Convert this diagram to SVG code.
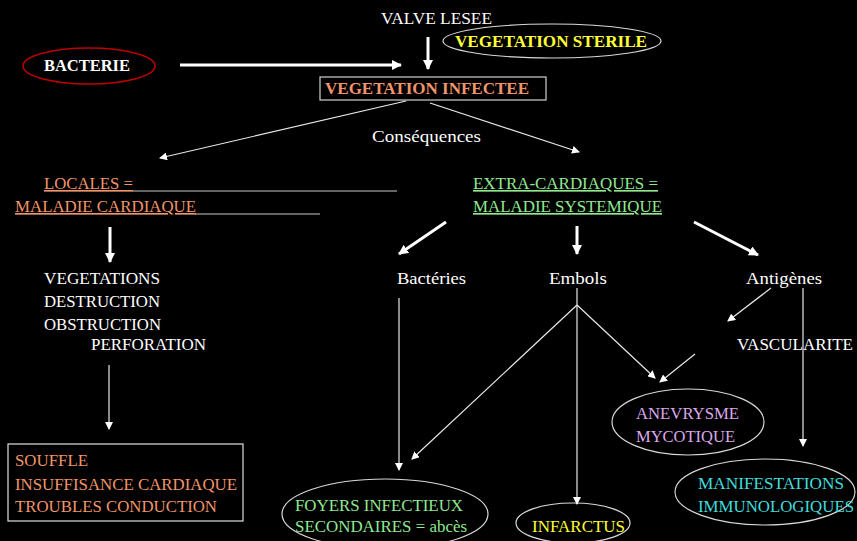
<svg xmlns="http://www.w3.org/2000/svg" width="857" height="541" viewBox="0 0 857 541">
<defs>
<marker id="ah" markerWidth="8" markerHeight="8" refX="7" refY="4" orient="auto" markerUnits="userSpaceOnUse"><path d="M0,0 L8,4 L0,8 z" fill="#fff"/></marker>
<marker id="ahb" markerWidth="10" markerHeight="10" refX="9" refY="5" orient="auto" markerUnits="userSpaceOnUse"><path d="M0,0 L10,5 L0,10 z" fill="#fff"/></marker>
</defs>
<style>
text{font-size:16.5px;fill:#fff}
.b{font-weight:bold}
.o{fill:#f0956a}
.g{fill:#90e890}
.y{fill:#ffff33}
.p{fill:#dca8ec}
.c{fill:#40dcdc}
.u{text-decoration:underline}
.thin{stroke:#e8e8e8;stroke-width:1.2;fill:none;marker-end:url(#ah)}
.thick{stroke:#fff;stroke-width:3;fill:none;marker-end:url(#ahb)}
.ell{fill:none;stroke:#d8d8d8;stroke-width:1.2}
.ul{stroke:#c8c8c8;stroke-width:1}
</style>
<rect width="857" height="541" fill="#000"/>
<g font-family="Liberation Serif, Times New Roman, serif">
<g id="valve"><text x="381" y="24" textLength="111" lengthAdjust="spacingAndGlyphs">VALVE LESEE</text></g>
<g id="sterile"><ellipse class="ell" cx="552" cy="41" rx="109" ry="17"/><text class="b y" x="455" y="47" textLength="192" lengthAdjust="spacingAndGlyphs">VEGETATION STERILE</text></g>
<g id="bacterie"><ellipse cx="89" cy="66" rx="66" ry="18" fill="none" stroke="#c00000" stroke-width="1.5"/><text class="b" x="44" y="71" textLength="86" lengthAdjust="spacingAndGlyphs">BACTERIE</text></g>
<g id="infectee"><rect x="320" y="77" width="226" height="23" fill="none" stroke="#d0d0d0" stroke-width="1.2"/><text class="b o" x="325" y="94" textLength="204" lengthAdjust="spacingAndGlyphs">VEGETATION INFECTEE</text></g>
<g id="consequences"><text x="372" y="142" style="font-size:17.5px" textLength="109" lengthAdjust="spacingAndGlyphs">Conséquences</text></g>
<g id="locales"><text class="o u" x="44" y="189" textLength="89" lengthAdjust="spacingAndGlyphs">LOCALES =</text><line class="ul" x1="133" y1="191" x2="397" y2="191"/><text class="o u" x="15" y="212" textLength="181" lengthAdjust="spacingAndGlyphs">MALADIE CARDIAQUE</text><line class="ul" x1="196" y1="214" x2="320" y2="214"/></g>
<g id="extra"><text class="g u" x="473" y="189" textLength="185" lengthAdjust="spacingAndGlyphs">EXTRA-CARDIAQUES =</text><text class="g u" x="473" y="212" textLength="189" lengthAdjust="spacingAndGlyphs">MALADIE SYSTEMIQUE</text></g>
<g id="lesions"><text x="44" y="284" textLength="116" lengthAdjust="spacingAndGlyphs">VEGETATIONS</text><text x="44" y="307" textLength="116" lengthAdjust="spacingAndGlyphs">DESTRUCTION</text><text x="44" y="330" textLength="117" lengthAdjust="spacingAndGlyphs">OBSTRUCTION</text><text x="91" y="350" textLength="115" lengthAdjust="spacingAndGlyphs">PERFORATION</text></g>
<g id="souffle"><rect x="8" y="444" width="235" height="77" fill="none" stroke="#e0e0e0" stroke-width="1.2"/><text class="o" x="15" y="466" textLength="73" lengthAdjust="spacingAndGlyphs">SOUFFLE</text><text class="o" x="15" y="490" textLength="222" lengthAdjust="spacingAndGlyphs">INSUFFISANCE CARDIAQUE</text><text class="o" x="15" y="512" textLength="202" lengthAdjust="spacingAndGlyphs">TROUBLES CONDUCTION</text></g>
<g id="bacteries"><text x="397" y="284" textLength="69" lengthAdjust="spacingAndGlyphs">Bactéries</text></g>
<g id="embols"><text x="549" y="284" textLength="58" lengthAdjust="spacingAndGlyphs">Embols</text></g>
<g id="antigenes"><text x="746" y="284" textLength="76" lengthAdjust="spacingAndGlyphs">Antigènes</text></g>
<g id="vascularite"><text x="737" y="350" textLength="116" lengthAdjust="spacingAndGlyphs">VASCULARITE</text></g>
<g id="anevrysme"><ellipse class="ell" cx="688" cy="422" rx="76" ry="33"/><text class="p" x="636" y="419" textLength="103" lengthAdjust="spacingAndGlyphs">ANEVRYSME</text><text class="p" x="636" y="442" textLength="99" lengthAdjust="spacingAndGlyphs">MYCOTIQUE</text></g>
<g id="manifestations"><ellipse class="ell" cx="765" cy="492" rx="90" ry="33"/><text class="c" x="698" y="489" textLength="146" lengthAdjust="spacingAndGlyphs">MANIFESTATIONS</text><text class="c" x="698" y="512" textLength="156" lengthAdjust="spacingAndGlyphs">IMMUNOLOGIQUES</text></g>
<g id="foyers"><ellipse class="ell" cx="385" cy="514" rx="103" ry="35"/><text class="g" x="295" y="511" textLength="168" lengthAdjust="spacingAndGlyphs">FOYERS INFECTIEUX</text><text class="g" x="295" y="532" textLength="172" lengthAdjust="spacingAndGlyphs">SECONDAIRES = abcès</text></g>
<g id="infarctus"><ellipse class="ell" cx="573" cy="523" rx="57" ry="20"/><text class="y" x="532" y="532" textLength="93" lengthAdjust="spacingAndGlyphs">INFARCTUS</text></g>
</g>
<g id="connectors">
<line class="thick" x1="428" y1="37" x2="428" y2="69"/>
<line class="thick" x1="180" y1="65" x2="401" y2="65"/>
<line class="thin" x1="406" y1="101" x2="160" y2="158"/>
<line class="thin" x1="430" y1="103" x2="579" y2="152"/>
<line class="thick" x1="110" y1="227" x2="110" y2="262"/>
<line class="thin" x1="109" y1="365" x2="109" y2="429"/>
<line class="thick" x1="446" y1="222" x2="399" y2="254"/>
<line class="thick" x1="577" y1="226" x2="577" y2="254"/>
<line class="thick" x1="694" y1="222" x2="758" y2="255"/>
<line class="thin" x1="399" y1="298" x2="399" y2="470"/>
<line stroke="#e8e8e8" stroke-width="1.2" x1="577" y1="288" x2="577" y2="305"/>
<line class="thin" x1="577" y1="305" x2="577" y2="504"/>
<line class="thin" x1="577" y1="305" x2="412" y2="459"/>
<line class="thin" x1="577" y1="305" x2="655" y2="378"/>
<line class="thin" x1="771" y1="288" x2="728" y2="321"/>
<line class="thin" x1="803" y1="288" x2="803" y2="446"/>
<line class="thin" x1="695" y1="354" x2="660" y2="382"/>
</g>
</svg>
